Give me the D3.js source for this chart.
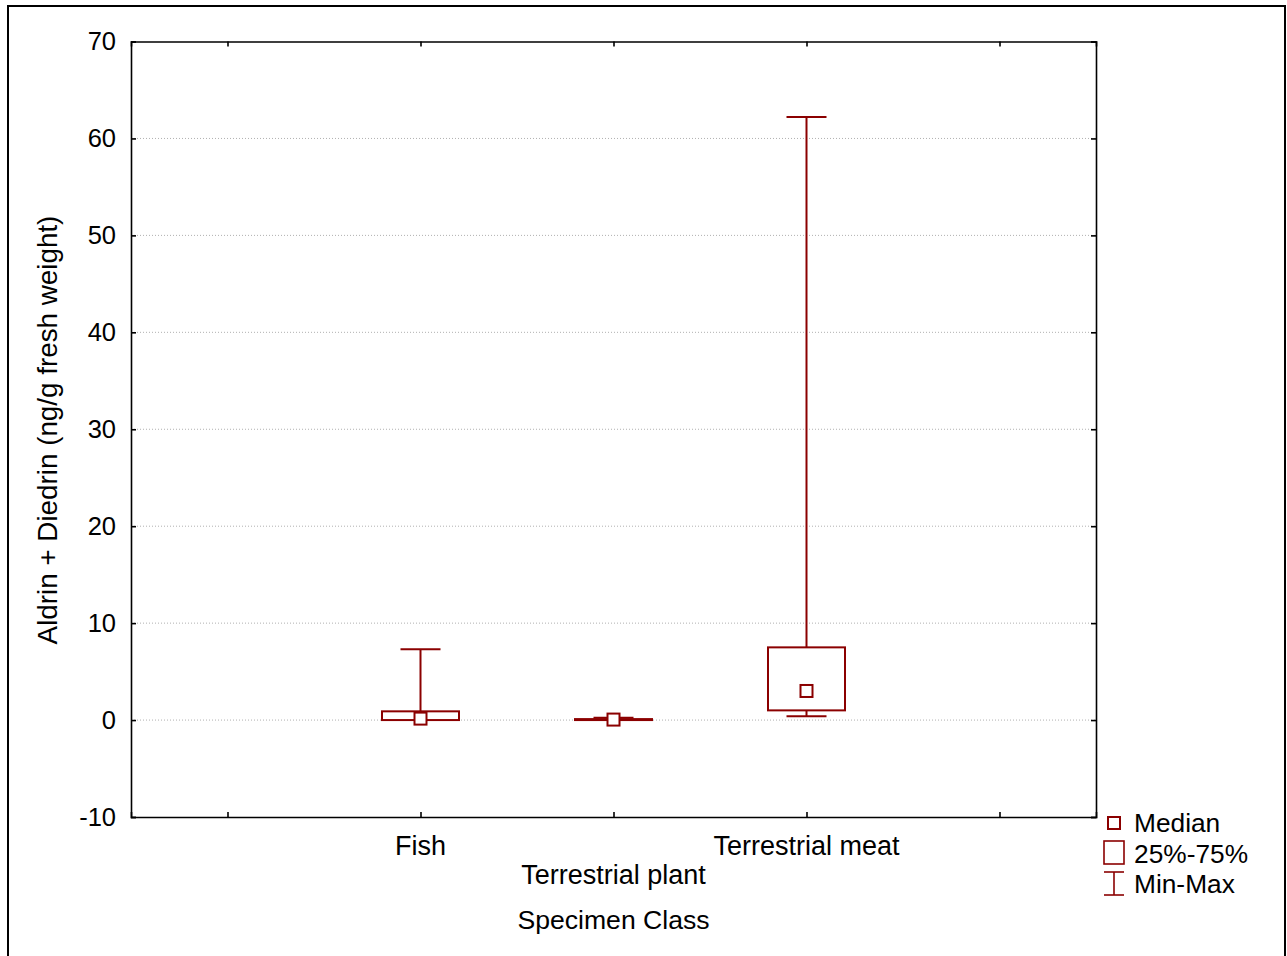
<!DOCTYPE html>
<html><head><meta charset="utf-8">
<script src="https://cdn.jsdelivr.net/npm/d3@7"></script>
<style>
html,body{margin:0;padding:0;background:#fff;}
text{font-family:"Liberation Sans",Arial,sans-serif;fill:#000;}
</style></head>
<body>
<svg id="chart" width="1287" height="956"></svg>
<script>
const slots = ["s0", "Fish", "Terrestrial plant", "Terrestrial meat", "s4"];
const categories = ["Fish", "Terrestrial plant", "Terrestrial meat"];
const minVals = [0.0, 0.0, 0.4];
const q1Vals = [0.0, 0.0, 1.0];
const medianVals = [0.15, 0.05, 3.0];
const q3Vals = [0.9, 0.1, 7.5];
const maxVals = [7.3, 0.25, 62.2];
const yTicks = [-10, 0, 10, 20, 30, 40, 50, 60, 70];
const legendLabels = ["Median", "25%-75%", "Min-Max"];

const color = "#8b0000";
const fs = 25.5;
const svg = d3.select("#chart");
const L = 131, R = 1096, T = 41.5, B = 817;

// outer border
svg.append("rect").attr("x", 8).attr("y", 6).attr("width", 1277).attr("height", 960)
  .attr("fill", "none").attr("stroke", "#000").attr("stroke-width", 2);

const x = d3.scalePoint().domain(slots).range([L, R]).padding(0.5);
const y = d3.scaleLinear().domain([-10, 70]).range([B, T]);

// grid
svg.append("g").selectAll("line").data(yTicks.filter(t => t > -10 && t < 70)).join("line")
  .attr("x1", L).attr("x2", R).attr("y1", d => y(d)).attr("y2", d => y(d))
  .attr("stroke", "#b0b0b0").attr("stroke-width", 1).attr("stroke-dasharray", "1,2");

// axes
const tickLen = 5;
const yAxisL = svg.append("g").attr("transform", `translate(${L},0)`)
  .call(d3.axisLeft(y).tickValues(yTicks).tickSize(-tickLen).tickPadding(15).tickFormat(d => String(d)));
const yAxisR = svg.append("g").attr("transform", `translate(${R},0)`)
  .call(d3.axisRight(y).tickValues(yTicks).tickSize(-tickLen).tickFormat(""));
const xAxisB = svg.append("g").attr("transform", `translate(0,${B})`)
  .call(d3.axisBottom(x).tickSize(-tickLen).tickFormat(""));
const xAxisT = svg.append("g").attr("transform", `translate(0,${T})`)
  .call(d3.axisTop(x).tickSize(-tickLen).tickFormat(""));
[yAxisL, yAxisR, xAxisB, xAxisT].forEach(g => {
  g.select(".domain").attr("stroke", "#000").attr("stroke-width", 1.6);
  g.selectAll(".tick line").attr("stroke", "#000").attr("stroke-width", 1.6);
});
yAxisL.selectAll("text").attr("font-size", fs).attr("font-family", '"Liberation Sans",Arial,sans-serif').attr("fill", "#000");

// category labels (staggered)
svg.append("g").selectAll("text").data(categories).join("text")
  .attr("x", d => x(d)).attr("y", (d, i) => i === 1 ? 884 : 855)
  .attr("text-anchor", "middle").attr("font-size", 27).text(d => d);

// axis titles
svg.append("text").attr("x", x("Terrestrial plant")).attr("y", 929)
  .attr("text-anchor", "middle").attr("font-size", 26.6).text("Specimen Class");
svg.append("text").attr("transform", `translate(57,430) rotate(-90)`)
  .attr("text-anchor", "middle").attr("font-size", 27.8).text("Aldrin + Diedrin (ng/g fresh weight)");

// boxes
const boxW = 77, capW = 40, medS = 12;
const g = svg.append("g");
categories.forEach((c, i) => {
  const cx = x(c);
  g.append("line").attr("x1", cx).attr("x2", cx).attr("y1", y(maxVals[i])).attr("y2", y(q3Vals[i]))
    .attr("stroke", color).attr("stroke-width", 2);
  g.append("line").attr("x1", cx).attr("x2", cx).attr("y1", y(q1Vals[i])).attr("y2", y(minVals[i]))
    .attr("stroke", color).attr("stroke-width", 2);
  g.append("line").attr("x1", cx - capW / 2).attr("x2", cx + capW / 2).attr("y1", y(maxVals[i])).attr("y2", y(maxVals[i]))
    .attr("stroke", color).attr("stroke-width", 2);
  g.append("line").attr("x1", cx - capW / 2).attr("x2", cx + capW / 2).attr("y1", y(minVals[i])).attr("y2", y(minVals[i]))
    .attr("stroke", color).attr("stroke-width", 2);
  g.append("rect").attr("x", cx - boxW / 2).attr("width", boxW)
    .attr("y", y(q3Vals[i])).attr("height", Math.max(0.5, y(q1Vals[i]) - y(q3Vals[i])))
    .attr("fill", "#fff").attr("stroke", color).attr("stroke-width", 2);
  g.append("rect").attr("x", cx - medS / 2).attr("y", y(medianVals[i]) - medS / 2)
    .attr("width", medS).attr("height", medS)
    .attr("fill", "#fff").attr("stroke", color).attr("stroke-width", 2);
});

// legend
const lg = svg.append("g");
lg.append("rect").attr("x", 1108).attr("y", 817).attr("width", 12).attr("height", 12)
  .attr("fill", "#fff").attr("stroke", color).attr("stroke-width", 2);
lg.append("rect").attr("x", 1104).attr("y", 841).attr("width", 20).attr("height", 23)
  .attr("fill", "#fff").attr("stroke", color).attr("stroke-width", 1.6);
lg.append("line").attr("x1", 1104).attr("x2", 1124).attr("y1", 872).attr("y2", 872).attr("stroke", color).attr("stroke-width", 1.6);
lg.append("line").attr("x1", 1104).attr("x2", 1124).attr("y1", 895).attr("y2", 895).attr("stroke", color).attr("stroke-width", 1.6);
lg.append("line").attr("x1", 1114).attr("x2", 1114).attr("y1", 872).attr("y2", 895).attr("stroke", color).attr("stroke-width", 1.6);
lg.selectAll("text.leg").data(legendLabels).join("text").attr("class", "leg")
  .attr("x", 1134).attr("y", (d, i) => 832 + i * 30.5).attr("font-size", 26.3).text(d => d);
</script>
</body></html>
